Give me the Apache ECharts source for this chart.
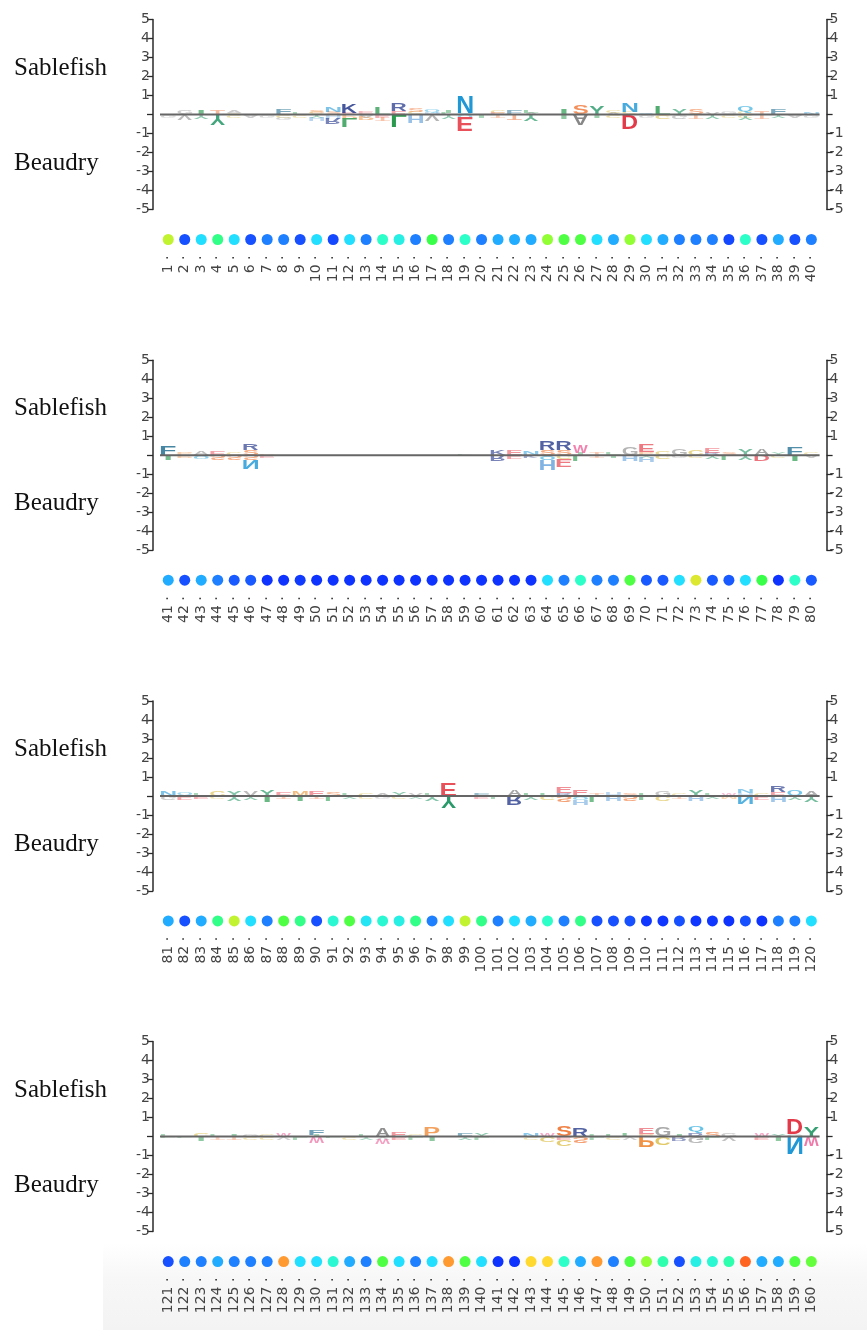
<!DOCTYPE html>
<html>
<head>
<meta charset="utf-8">
<script src="https://cdn.jsdelivr.net/npm/echarts@6/dist/echarts.min.js"></script>
<style>
  html, body { margin: 0; padding: 0; background: #ffffff; }
  #chart { width: 867px; height: 1330px; }
</style>
</head>
<body>
<div id="chart"></div>
<script>
// ---- data -------------------------------------------------------------
// Residue positions along the alignment, 40 per panel.
const positions = Array.from({ length: 160 }, (_, i) => i + 1);
const PER_PANEL = 40;
const groupNames = ['Sablefish', 'Beaudry'];
const yTickValues = [-5, -4, -3, -2, -1, 0, 1, 2, 3, 4, 5];

// Letter stacks (residue + height in bits) enriched in Sablefish, drawn above zero.
const sablefishLogo = [
  'Y.08', 'G.2', 'I.3', 'T.25', 'A.1 C.08', 'L.08', 'V.05', 'F.25', 'L.1', 'S.15 C.1',
  'S.15 N.25', 'E.1 K.5', 'E.1 W.05', 'L.4', 'E.2 R.4', 'C.15 S.2', 'Q.15 H.1', 'I.15 L.1', 'Q.1 N.9', 'L.08',
  'C.15 E.1', 'F.2', 'L.15 A.1', 'L.05', 'I.35', 'S.45', 'Y.45', 'C.15 A.1', 'C.15 N.45', 'Q.12',
  'L.45', 'Y.3', 'S.25', 'V.15', 'G.1', 'C.1 Q.3', 'T.2', 'F.25', 'L.05', 'N.1',
  'F.45', 'P.1', 'A.2', 'E.2', 'C.15', 'S.3 R.35', 'P.08', '', '', '',
  '', '', '', '', '', '', '', '', 'L.05', '',
  'K.3', 'E.25', 'N.2', 'S.3 R.45', 'S.3 R.45', 'I.1 W.4', 'T.15', 'L.1', 'G.4', 'P.15 E.4',
  'C.2', 'G.35', 'C.25', 'R.1 E.25', 'S.15', 'Y.3', 'A.35', 'Y.1', 'F.4', 'C.1',
  'N.25', 'Q.15', 'L.1', 'C.25', 'Y.25', 'V.25', 'Y.35', 'E.2', 'M.3', 'E.25',
  'S.2', 'L.1', 'C.15', 'A.15', 'Y.2', 'V.15', 'L.1', 'E.65', 'L.08', 'F.15',
  'L.08', 'A.35', 'L.15', 'L.15', 'R.15 E.3', 'E.3', 'T.15', 'H.2', 'S.15', 'L.15',
  'G.25', 'C.1', 'Y.3', 'L.1', 'W.1', 'H.15 N.2', 'C.15', 'E.2 R.35', 'Q.3', 'A.3',
  'L.1', 'L.08', 'C.2', 'L.1', 'I.15', 'G.15', 'C.1', 'W.2', 'L.08', 'I.1 F.3',
  'L.08', 'L.05', 'L.1', 'A.5', 'E.25', 'C.1', 'P.45', 'L.05', 'F.2', 'Y.2',
  '', '', 'N.2', 'W.2', 'S.55', 'R.45', 'L.1', 'L.15', 'L.2', 'P.15 E.3',
  'G.5', 'I.15', 'R.2 Q.35', 'S.3', 'G.2', '', 'W.2', 'Y.15', 'G.15 D.8', 'Y.55'
];

// Letter stacks enriched in Beaudry, drawn below zero (mirrored).
const beaudryLogo = [
  'G.1', 'V.25', 'Y.2', 'Y.5', 'C.1', 'A.1', 'G.1', 'C.15 G.15', 'C.1', 'Y.15 H.2',
  'H.2 R.3', 'P.2 L.45', 'P.2 A.1', 'E.15 T.2', 'L.6', 'H.4', 'V.3', 'Y.2', 'Q.15 E.75', 'I.1',
  'T.15', 'T.3', 'Y.35', '', 'I.2', 'A.55', 'I.15', 'C.15', 'D.75', 'G.15',
  'C.2', 'G.2', 'T.2', 'Y.2', 'C.1', 'C.1 Y.2', 'T.2', 'Y.15', 'A.1', 'G.1',
  'I.3', 'P.1', 'Q.2', 'S.25', 'S.25', 'S.25 N.45', 'E.1', '', '', '',
  '', '', '', '', '', '', '', '', '', '',
  'R.3', 'E.2', 'K.15', 'Q.25 H.55', 'C.2 E.4', 'L.3', 'T.1', 'I.1', 'H.35', 'Y.1 H.3',
  'C.2', 'G.15', 'C.15', 'Y.2', 'L.25', 'Y.25', 'D.35', 'C.1', 'I.35', 'A.1',
  'G.2', 'E.2', 'E.15', 'C.1', 'Y.25', 'Y.2', 'I.35', 'T.15', 'I.3', 'T.15',
  'L.25', 'Y.15', 'C.1', 'G.1', 'C.1', 'Y.1', 'Y.25', 'Y.6', 'I.08', 'E.1',
  'L.1', 'R.45', 'Y.2', 'C.2', 'S.35', 'Q.2 H.3', 'L.3', 'H.3', 'S.3', 'L.2',
  'C.25', 'T.1', 'H.3', 'Y.15', 'M.1', 'N.4', 'E.2', 'H.35', 'Y.2', 'Y.3',
  'L.05', 'L.05', 'I.2', 'T.1', 'T.15', 'C.1', 'C.1', 'V.1', 'L.1', 'W.3',
  'L.05', 'C.1', 'Y.1', 'V.1 W.25', 'E.15', 'L.1', 'I.2', '', 'Y.15', 'L.1',
  '', '', 'C.1', 'C.3', 'E.15 C.35', 'S.35', 'L.1', 'C.1', 'V.1', 'P.55',
  'C.4', 'R.2', 'G.35', 'L.15', 'V.2', '', 'E.15', 'I.2', 'N.9', 'W.45'
];

// Per-site score shown by the coloured dot under each position (0 low .. 1 high).
const siteScore = [
  0.73, 0.10, 0.40, 0.55, 0.40, 0.10, 0.20, 0.20, 0.10, 0.40,
  0.08, 0.40, 0.20, 0.50, 0.45, 0.20, 0.60, 0.20, 0.50, 0.20,
  0.30, 0.30, 0.30, 0.68, 0.62, 0.62, 0.40, 0.30, 0.68, 0.40,
  0.30, 0.20, 0.20, 0.20, 0.08, 0.50, 0.10, 0.30, 0.10, 0.20,
  0.30, 0.10, 0.30, 0.20, 0.12, 0.12, 0.03, 0.03, 0.05, 0.03,
  0.03, 0.03, 0.03, 0.03, 0.03, 0.03, 0.03, 0.03, 0.03, 0.03,
  0.03, 0.03, 0.03, 0.40, 0.20, 0.50, 0.20, 0.20, 0.62, 0.12,
  0.12, 0.40, 0.76, 0.12, 0.12, 0.40, 0.60, 0.03, 0.50, 0.12,
  0.30, 0.10, 0.30, 0.55, 0.73, 0.40, 0.20, 0.62, 0.55, 0.10,
  0.48, 0.62, 0.42, 0.48, 0.45, 0.55, 0.20, 0.40, 0.73, 0.55,
  0.20, 0.40, 0.30, 0.50, 0.20, 0.55, 0.10, 0.10, 0.10, 0.04,
  0.04, 0.10, 0.04, 0.04, 0.03, 0.10, 0.03, 0.20, 0.20, 0.40,
  0.10, 0.20, 0.20, 0.30, 0.20, 0.20, 0.20, 0.90, 0.40, 0.40,
  0.48, 0.30, 0.20, 0.62, 0.40, 0.20, 0.40, 0.90, 0.62, 0.40,
  0.03, 0.03, 0.80, 0.80, 0.50, 0.30, 0.90, 0.20, 0.62, 0.68,
  0.52, 0.10, 0.45, 0.48, 0.52, 1.00, 0.30, 0.30, 0.62, 0.64
];

// ---- styling ----------------------------------------------------------
const residueColor = {
  A: '#808080', C: '#d8b838', D: '#e23a48', E: '#e8505a', F: '#1d6b8e',
  G: '#9c9c9c', H: '#78aee0', I: '#2b9a4f', K: '#2c3f8e', L: '#2b9a4f',
  M: '#e89a40', N: '#2098d6', P: '#f08c3a', Q: '#26a8dc', R: '#2c3f8e',
  S: '#f07838', T: '#f08a5a', V: '#8a8a8a', W: '#ee5c96', Y: '#2a9a6a'
};
// Narrow glyphs keep part of their natural width instead of filling the cell.
const glyphWidthShare = { I: 0.38 };
const dotPalette = ['#0a26ff', '#1650ff', '#1e80ff', '#22acff', '#22deff',
  '#2cffc8', '#38ff48', '#a8ff30', '#ffd830', '#ff9a30', '#ff6420'];

const LETTER_FONT_FAMILY = '"Liberation Sans", Arial, sans-serif';
const LETTER_FONT = 'bold 100px ' + LETTER_FONT_FAMILY;
const TICK_FONT = '"DejaVu Sans", sans-serif';

// Ink boxes of the letter glyphs, used to stretch each glyph into its cell.
const glyphBox = {};
(function measureGlyphs() {
  const ctx = document.createElement('canvas').getContext('2d');
  ctx.font = LETTER_FONT;
  ctx.textAlign = 'left';
  ctx.textBaseline = 'middle';
  Object.keys(residueColor).forEach(function (ch) {
    const m = ctx.measureText(ch);
    glyphBox[ch] = {
      l: -m.actualBoundingBoxLeft,
      r: m.actualBoundingBoxRight,
      t: -m.actualBoundingBoxAscent,
      b: m.actualBoundingBoxDescent
    };
  });
})();
const letterList = Object.keys(residueColor);

function parseStack(s) {
  const t = s.trim();
  if (!t) return [];
  return t.split(/\s+/).map(function (tok) { return [tok[0], parseFloat(tok.slice(1))]; });
}

// Stacked letter records for one panel: [pos, from, to, letterIndex, direction]
function buildLetters(panel) {
  const out = [];
  for (let i = 0; i < PER_PANEL; i++) {
    const idx = panel * PER_PANEL + i;
    const pos = i + 1;
    [[sablefishLogo, 1], [beaudryLogo, -1]].forEach(function (pair) {
      const stack = parseStack(pair[0][idx]).sort(function (a, b) { return a[1] - b[1]; });
      let base = 0;
      stack.forEach(function (it) {
        out.push([pos, pair[1] * base, pair[1] * (base + it[1]), letterList.indexOf(it[0]), pair[1]]);
        base += it[1];
      });
    });
  }
  return out;
}

function renderLetter(params, api) {
  const pos = api.value(0);
  const v0 = api.value(1);
  const v1 = api.value(2);
  const ch = letterList[api.value(3)];
  const dir = api.value(4);
  const p0 = api.coord([pos - 0.5, v0]);
  const p1 = api.coord([pos + 0.5, v1]);
  const pad = 0.8;
  let xL = p0[0] + pad, xR = p1[0] - pad;
  const share = glyphWidthShare[ch];
  if (share) {
    const cx = (xL + xR) / 2, half = (xR - xL) * share / 2;
    xL = cx - half; xR = cx + half;
  }
  const yT = Math.min(p0[1], p1[1]), yB = Math.max(p0[1], p1[1]);
  const g = glyphBox[ch];
  const sx = (xR - xL) / (g.r - g.l);
  const h = yB - yT;
  let sy, y;
  if (dir > 0) {
    sy = h / (g.b - g.t);
    y = yT - sy * g.t;
  } else {
    sy = -h / (g.b - g.t);
    y = yB - sy * g.t;
  }
  const bits = Math.abs(v1 - v0);
  return {
    type: 'text',
    x: xL - sx * g.l,
    y: y,
    scaleX: sx,
    scaleY: sy,
    silent: true,
    style: {
      text: ch, x: 0, y: 0,
      font: LETTER_FONT,
      fill: residueColor[ch],
      align: 'left', verticalAlign: 'middle',
      textAlign: 'left', textVerticalAlign: 'middle',
      opacity: Math.min(1, 0.28 + bits * 1.2)
    }
  };
}

// ---- layout -----------------------------------------------------------
const PANEL_STEP = 340.7;
const PLOT_LEFT = 160;
const PLOT_WIDTH = 659.6;

const grids = [], xAxes = [], yAxes = [], series = [], graphics = [];
const dotSeriesIdx = [];

// faint grey shading along the foot of the page
graphics.push({
  type: 'rect', left: 103, top: 1243, z: -10,
  shape: { width: 764, height: 87 },
  style: {
    fill: new echarts.graphic.LinearGradient(0, 0, 0, 1, [
      { offset: 0, color: 'rgba(244,244,244,0)' },
      { offset: 0.4, color: 'rgba(244,244,244,0.7)' },
      { offset: 1, color: 'rgba(243,243,243,1)' }
    ])
  },
  silent: true
});

for (let p = 0; p < 4; p++) {
  const top = 19.5 + p * PANEL_STEP;
  // logo area
  grids.push({ left: PLOT_LEFT, top: top, width: PLOT_WIDTH, height: 190 });
  // dot row
  grids.push({ left: PLOT_LEFT, top: top + 210, width: PLOT_WIDTH, height: 20 });
  const gLogo = 2 * p, gDots = 2 * p + 1;

  xAxes.push({ gridIndex: gLogo, type: 'value', min: 0.5, max: PER_PANEL + 0.5, show: false });
  xAxes.push({
    gridIndex: gDots, type: 'category',
    data: positions.slice(p * PER_PANEL, (p + 1) * PER_PANEL).map(String),
    boundaryGap: true,
    axisLine: { show: false }, axisTick: { show: false },
    axisLabel: {
      rotate: 90, interval: 0, margin: 6,
      fontFamily: TICK_FONT, fontSize: 14, color: '#444',
      formatter: function (v) { return v + ' \u00b7'; }
    }
  });

  const sideAxis = function (position) {
    return {
      gridIndex: gLogo, type: 'value', position: position, offset: 7,
      min: yTickValues[0], max: yTickValues[yTickValues.length - 1], interval: 1,
      splitLine: { show: false },
      axisLine: { show: true, lineStyle: { color: '#2a2a2a', width: 1.5 } },
      axisTick: { show: true, length: 6, lineStyle: { color: '#2a2a2a', width: 1.3 } },
      axisLabel: {
        margin: 3, fontFamily: TICK_FONT, fontSize: 14, color: '#444',
        formatter: function (v) { return v === 0 ? '' : String(v); }
      }
    };
  };
  yAxes.push(sideAxis('left'));
  yAxes.push(sideAxis('right'));
  yAxes.push({ gridIndex: gDots, type: 'value', min: -1, max: 1, show: false });
  const yLeft = 3 * p, yDots = 3 * p + 2;

  series.push({
    type: 'custom',
    xAxisIndex: gLogo, yAxisIndex: yLeft,
    renderItem: renderLetter,
    encode: { x: 0, y: [1, 2] },
    data: buildLetters(p),
    z: 2, silent: true, animation: false
  });
  series.push({
    type: 'line',
    xAxisIndex: gLogo, yAxisIndex: yLeft,
    data: [[0.5, 0], [PER_PANEL + 0.5, 0]],
    symbol: 'none',
    lineStyle: { color: '#666666', width: 2 },
    z: 5, silent: true, animation: false
  });
  dotSeriesIdx.push(series.length);
  series.push({
    type: 'scatter',
    xAxisIndex: gDots, yAxisIndex: yDots,
    symbolSize: 11,
    itemStyle: { opacity: 1 },
    data: siteScore.slice(p * PER_PANEL, (p + 1) * PER_PANEL).map(function (s, i) { return [i, 0, s]; }),
    silent: true, animation: false
  });

  graphics.push({
    type: 'text', left: 14, top: top + 36,
    style: { text: groupNames[0], font: '25px "Liberation Serif", "Times New Roman", serif', fill: '#111' }
  });
  graphics.push({
    type: 'text', left: 14, top: top + 131,
    style: { text: groupNames[1], font: '25px "Liberation Serif", "Times New Roman", serif', fill: '#111' }
  });
}

const chart = echarts.init(document.getElementById('chart'), null, { renderer: 'canvas' });
chart.setOption({
  backgroundColor: '#ffffff',
  animation: false,
  grid: grids,
  xAxis: xAxes,
  yAxis: yAxes,
  visualMap: {
    type: 'continuous', show: false, min: 0, max: 1, dimension: 2,
    seriesIndex: dotSeriesIdx,
    inRange: { color: dotPalette }
  },
  graphic: graphics,
  series: series
});
</script>
</body>
</html>
